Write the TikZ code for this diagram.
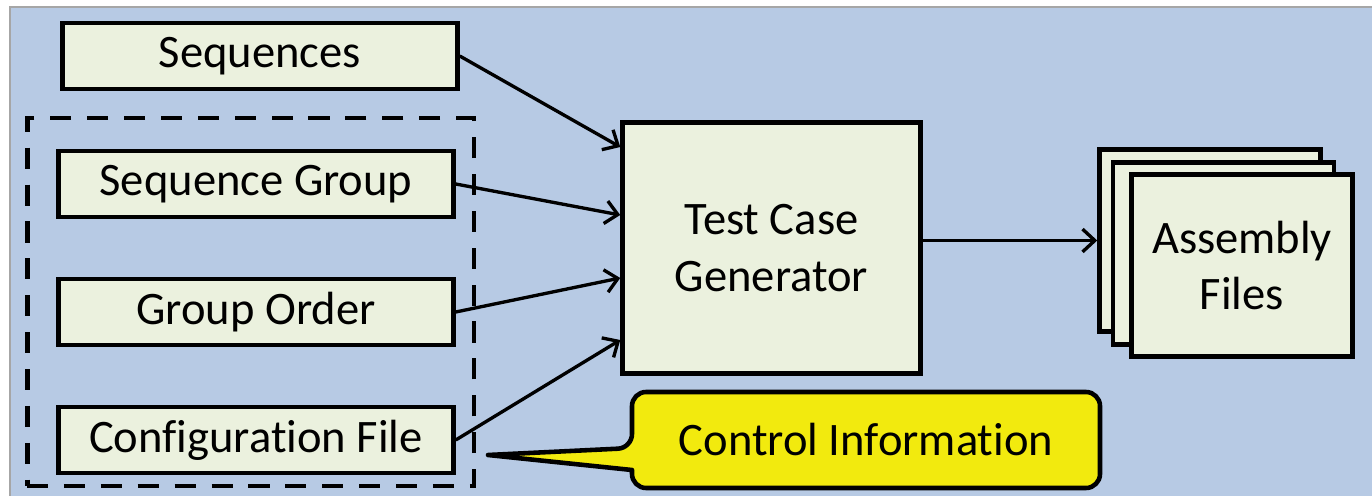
\documentclass[tikz,border=0pt]{standalone}
\usepackage{fontspec}
\setmainfont{Carlito}[Ligatures={NoCommon}]
\usetikzlibrary{arrows.meta}

\definecolor{panelblue}{RGB}{183,202,228}
\definecolor{boxgreen}{RGB}{235,241,222}
\definecolor{noteyellow}{RGB}{242,234,14}

\tikzset{
  inbox/.style={draw, line width=2.6pt, fill=boxgreen, minimum width=7.9cm,
    minimum height=1.32cm, inner sep=0pt},
  sheet/.style={draw, line width=2.6pt, fill=boxgreen, minimum width=4.42cm,
    minimum height=3.64cm, align=center, inner sep=0pt},
  flow/.style={line width=1.9pt, -{Straight Barb[length=7pt,width=13pt]}},
  notebox/.style={draw, line width=2.6pt, fill=noteyellow, line join=round},
}

\begin{document}
\begin{tikzpicture}[x=0.02cm, y=-0.02cm, font=\fontsize{26.5}{32}\selectfont]
        \useasboundingbox (0,0) rectangle (1372,496);
        % panel
        \draw[fill=panelblue, draw=gray!70, line width=0.8pt] (10,7) rectangle (1385,505);

        % inputs
        \node[inbox] (seq) at (260,56) {Sequences};
        \node[draw, line width=2.8pt, dash pattern=on 12pt off 9pt,
        minimum width=8.94cm, minimum height=7.36cm] (ctrl) at (250.5,302) {};
        \node[inbox] (grp) at (256,184) {Sequence Group};
        \node[inbox] (ord) at (256,312) {Group Order};
        \node[inbox] (cfg) at (256,440) {Configuration File};

        % generator
        \node[draw, line width=2.6pt, fill=boxgreen, minimum width=5.96cm,
        minimum height=5.02cm, align=center, inner sep=0pt]
        (tcg) at (771.5,248) {Test Case\\Generator};

        \draw[flow] (seq.east) -- ([yshift=2.02cm]tcg.west);
        \draw[flow] (grp.east) -- ([yshift=0.66cm]tcg.west);
        \draw[flow] (ord.east) -- ([yshift=-0.6cm]tcg.west);
        \draw[flow] (cfg.east) -- ([yshift=-1.84cm]tcg.west);

        % output files
        \node[sheet] (asm3) at (1210,240.5) {};
        \node[sheet] (asm2) at (1223.5,253.5) {};
        \node[sheet] (asm1) at (1242,265.5) {Assembly\\Files};
        \draw[flow] (tcg.east |- asm3.west) -- (asm3.west);

        % callout
        \coordinate (tip) at (488,455);
        \draw[notebox, rounded corners=8pt] (632,470) -- (632,488) -- (1100,488)
        -- (1100,392) -- (632,392) -- (632,448) [sharp corners] -- (tip) -- cycle;
        \node (note) at (866,440) {Control Information};
    \end{tikzpicture}
\end{document}
